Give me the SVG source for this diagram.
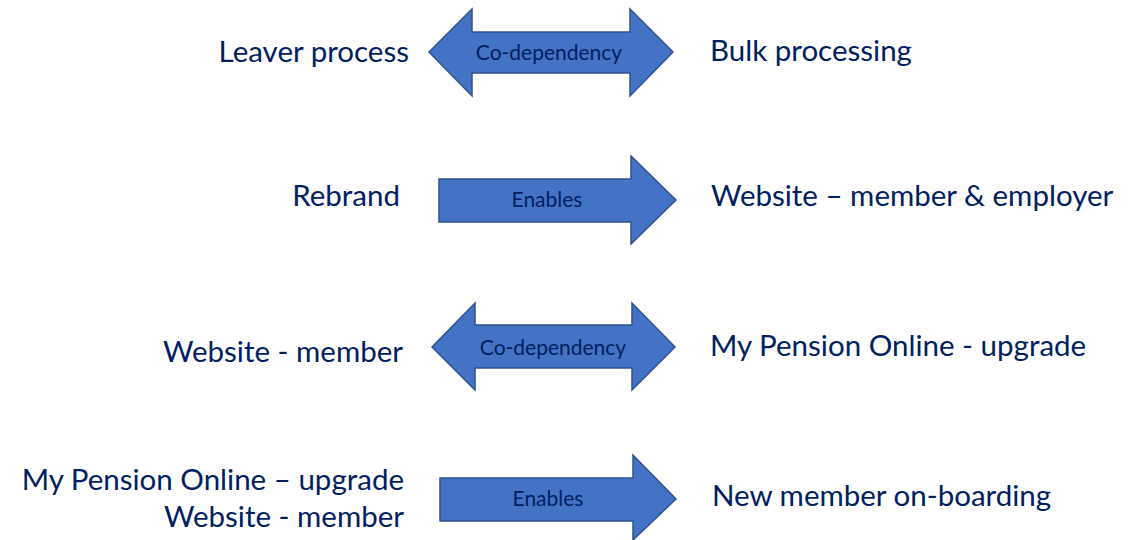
<svg xmlns="http://www.w3.org/2000/svg" width="1140" height="540" viewBox="0 0 1140 540">
  <style>
    .arrow { fill: #4472C4; stroke: #2F528F; stroke-width: 1.5; stroke-linejoin: miter; }
    .lbl { font-family: Lato, "Open Sans", sans-serif; font-size: 21px; fill: #002060; text-anchor: middle; }
    .item { font-family: Lato, "Open Sans", sans-serif; font-size: 29.5px; fill: #002060; }
    .left { text-anchor: end; }
    .right { text-anchor: start; }
  </style>
  <rect width="1140" height="540" fill="#FFFFFF"/>

  <!-- items on the left -->
  <g id="node-leaver"><text class="item left" x="409" y="62">Leaver process</text></g>
  <g id="node-rebrand"><text class="item left" x="400" y="206">Rebrand</text></g>
  <g id="node-website-member"><text class="item left" x="403" y="362">Website - member</text></g>
  <g id="node-mpo-website">
    <text class="item left" x="404" y="490">My Pension Online – upgrade</text>
    <text class="item left" x="404" y="527">Website - member</text>
  </g>

  <!-- items on the right -->
  <g id="node-bulk"><text class="item right" x="710" y="61">Bulk processing</text></g>
  <g id="node-website-member-employer"><text class="item right" x="711" y="206">Website – member &amp; employer</text></g>
  <g id="node-mpo-upgrade"><text class="item right" x="710" y="356">My Pension Online - upgrade</text></g>
  <g id="node-onboarding"><text class="item right" x="712" y="506">New member on-boarding</text></g>

  <!-- relationship arrows -->
  <g id="connectors">
    <g id="link-1">
      <path class="arrow" d="M429,52 L472,9 L472,32 L630,32 L630,9 L673,52 L630,96 L630,73 L472,73 L472,96 Z"/>
      <text class="lbl" x="549" y="60">Co-dependency</text>
    </g>
    <g id="link-2">
      <path class="arrow" d="M439,179 L631,179 L631,156 L676,200 L631,244 L631,222 L439,222 Z"/>
      <text class="lbl" x="547" y="207">Enables</text>
    </g>
    <g id="link-3">
      <path class="arrow" d="M432,347 L475,303 L475,325 L632,325 L632,303 L675,347 L632,390 L632,368 L475,368 L475,390 Z"/>
      <text class="lbl" x="553" y="355">Co-dependency</text>
    </g>
    <g id="link-4">
      <path class="arrow" d="M440,478 L633,478 L633,455 L676,499 L633,540 L633,521 L440,521 Z"/>
      <text class="lbl" x="548" y="506">Enables</text>
    </g>
  </g>
</svg>
